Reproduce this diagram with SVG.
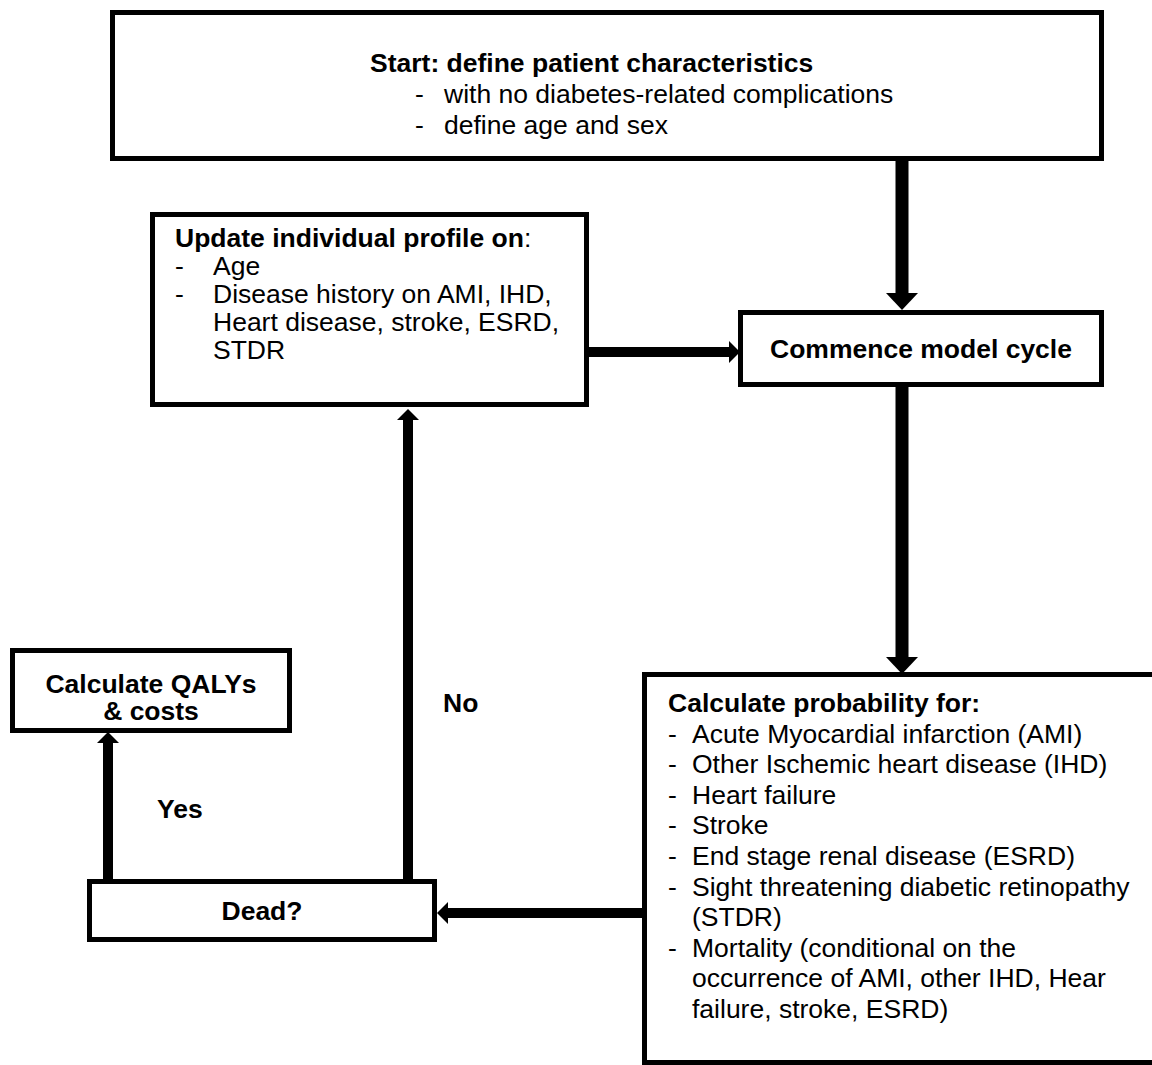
<svg xmlns="http://www.w3.org/2000/svg" width="1152" height="1065" viewBox="0 0 1152 1065">
<style>
  .box { fill: #fff; stroke: #000; stroke-width: 5; }
  text { font-family: "Liberation Sans", Arial, sans-serif; font-size: 26.5px; fill: #000; }
  .b { font-weight: bold; }
  .conn line { stroke: #000; fill: none; }
  .thick { stroke-width: 13; }
  .thin { stroke-width: 10; }
</style>
<defs>
  <marker id="big" markerUnits="userSpaceOnUse" markerWidth="18" markerHeight="34" viewBox="0 -17 18 34" refX="1" refY="0" orient="auto">
    <path d="M0,-16 L17,0 L0,16 z" fill="#000"/>
  </marker>
  <marker id="small" markerUnits="userSpaceOnUse" markerWidth="12" markerHeight="24" viewBox="0 -12 12 24" refX="1" refY="0" orient="auto">
    <path d="M0,-11 L11,0 L0,11 z" fill="#000"/>
  </marker>
</defs>
<rect width="1152" height="1065" fill="#fff"/>
<g id="connectors" class="conn">
  <line class="thick" x1="902" y1="160" x2="902" y2="294" marker-end="url(#big)"/>
  <line class="thick" x1="902" y1="386" x2="902" y2="658" marker-end="url(#big)"/>
  <line class="thin" x1="586" y1="352" x2="730" y2="352" marker-end="url(#small)"/>
  <line class="thin" x1="644" y1="913" x2="447" y2="913" marker-end="url(#small)"/>
  <line class="thin" x1="408" y1="880" x2="408" y2="419" marker-end="url(#small)"/>
  <line class="thin" x1="108" y1="880" x2="108" y2="742" marker-end="url(#small)"/>
</g>
<g id="node-start">
  <rect class="box" x="112.5" y="12.5" width="989" height="146"/>
  <text class="b" x="370" y="72">Start: define patient characteristics</text>
  <text x="415" y="103">-</text>
  <text x="444" y="103">with no diabetes-related complications</text>
  <text x="415" y="134">-</text>
  <text x="444" y="134">define age and sex</text>
</g>
<g id="node-update">
  <rect class="box" x="152.5" y="214.5" width="434" height="190"/>
  <text x="175" y="247"><tspan class="b">Update individual profile on</tspan>:</text>
  <text x="175" y="275">-</text>
  <text x="213" y="275">Age</text>
  <text x="175" y="303">-</text>
  <text x="213" y="303">Disease history on AMI, IHD,</text>
  <text x="213" y="331">Heart disease, stroke, ESRD,</text>
  <text x="213" y="359">STDR</text>
</g>
<g id="node-commence">
  <rect class="box" x="740.5" y="312.5" width="361" height="72"/>
  <text class="b" x="921" y="358" text-anchor="middle">Commence model cycle</text>
</g>
<g id="node-probability">
  <rect class="box" x="644.5" y="674.5" width="520" height="388"/>
  <text class="b" x="668" y="712">Calculate probability for:</text>
  <text x="668" y="742.6">-</text><text x="692" y="742.6">Acute Myocardial infarction (AMI)</text>
  <text x="668" y="773.2">-</text><text x="692" y="773.2">Other Ischemic heart disease (IHD)</text>
  <text x="668" y="803.8">-</text><text x="692" y="803.8">Heart failure</text>
  <text x="668" y="834.4">-</text><text x="692" y="834.4">Stroke</text>
  <text x="668" y="865">-</text><text x="692" y="865">End stage renal disease (ESRD)</text>
  <text x="668" y="895.6">-</text><text x="692" y="895.6">Sight threatening diabetic retinopathy</text>
  <text x="692" y="926.2">(STDR)</text>
  <text x="668" y="956.8">-</text><text x="692" y="956.8">Mortality (conditional on the</text>
  <text x="692" y="987.4">occurrence of AMI, other IHD, Hear</text>
  <text x="692" y="1018">failure, stroke, ESRD)</text>
</g>
<g id="node-qalys">
  <rect class="box" x="12.5" y="650.5" width="277" height="80"/>
  <text class="b" x="151" y="693" text-anchor="middle">Calculate QALYs</text>
  <text class="b" x="151" y="720" text-anchor="middle">&amp; costs</text>
</g>
<g id="node-dead">
  <rect class="box" x="89.5" y="881.5" width="345" height="58"/>
  <text class="b" x="262" y="920" text-anchor="middle">Dead?</text>
</g>
<g id="labels">
  <text class="b" x="443" y="712">No</text>
  <text class="b" x="157" y="818">Yes</text>
</g>
</svg>
